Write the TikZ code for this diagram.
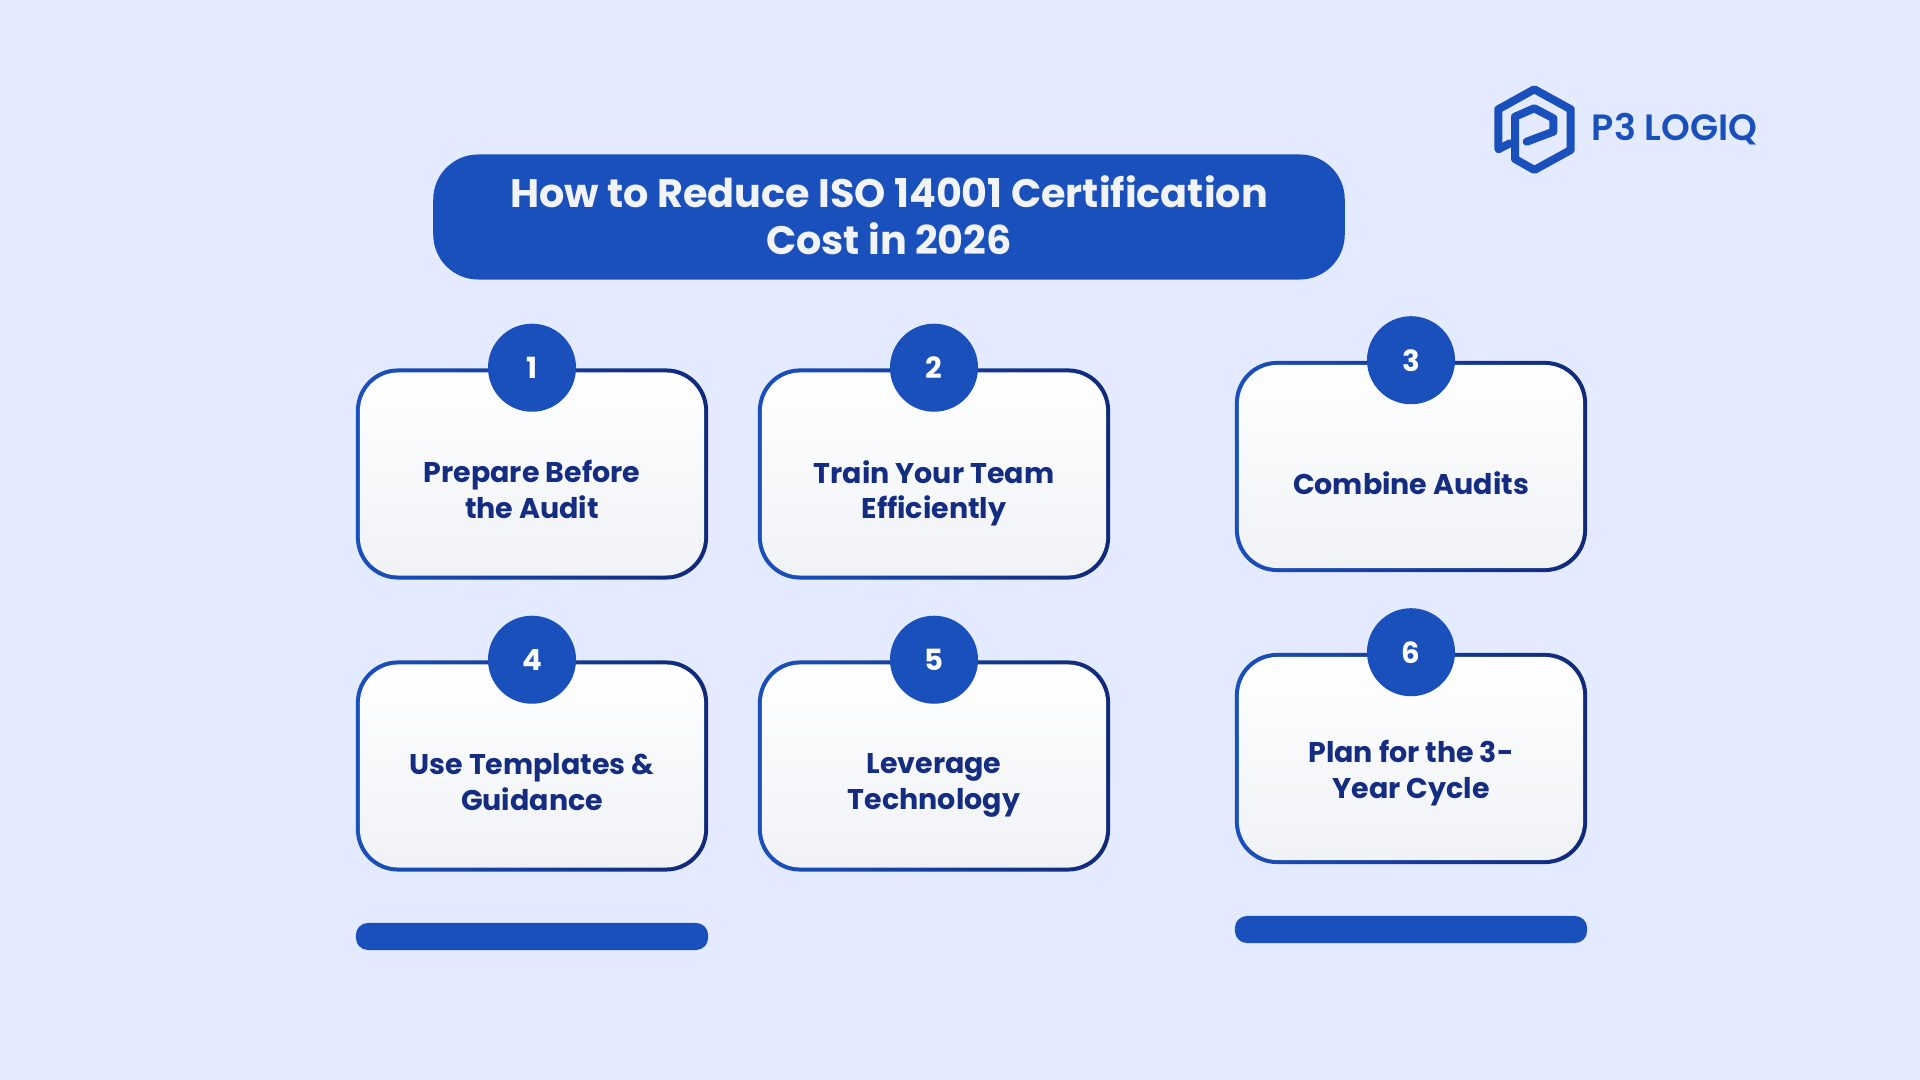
\documentclass[tikz,border=0pt]{standalone}
\usepackage{fontspec}
\usepackage{tikz}
\usepackage{xcolor}
\usetikzlibrary{positioning, shapes}
\setmainfont{Poppins}
\newfontfamily\logofont{Poppins SemiBold}
\definecolor{pagebg}{HTML}{E4EAFF}
\definecolor{brandblue}{HTML}{1A50BC}
\definecolor{edgedark}{HTML}{10297A}
\definecolor{inknavy}{HTML}{142D80}
\definecolor{cardlow}{HTML}{F0F2F6}
\definecolor{titleink}{HTML}{F1F3F6}

\begin{document}
\begin{tikzpicture}[
            x=0.01cm, y=-0.01cm,
            cardedge/.style={rectangle, rounded corners=0.42cm, minimum width=3.52cm, minimum height=2.11cm, inner sep=0pt, left color=brandblue, right color=edgedark},
            cardface/.style={rectangle, rounded corners=0.385cm, minimum width=3.44cm, minimum height=2.03cm, inner sep=0pt, top color=white, bottom color=cardlow},
            cardtext/.style={text=inknavy, font=\fontsize{8.1}{10.2}\selectfont\bfseries, align=center, yshift=-0.21cm, execute at begin node=\strut, execute at end node=\strut},
            numdot/.style={circle, fill=brandblue, minimum size=0.88cm, inner sep=0pt, text=white, font=\fontsize{8.3}{10}\selectfont\bfseries},
            footbar/.style={rectangle, fill=brandblue, rounded corners=0.12cm, minimum width=3.52cm, minimum height=0.27cm, inner sep=0pt},
        ]
            \fill[pagebg] (0,0) rectangle (1920,1080);
            \useasboundingbox (0,0) rectangle (1920,1080);

            \node[rectangle, fill=brandblue, rounded corners=0.45cm, minimum width=9.11cm, minimum height=1.25cm, text=titleink, align=center, font=\fontsize{11.3}{13.4}\selectfont\bfseries] (title) at (889,217) {\raisebox{0.035cm}{How to Reduce ISO 14001 Certification}\\\raisebox{0.035cm}{Cost in 2026}};

            \node[cardedge] (card1) at (532,474) {};
            \node[cardface] (face1) at (card1) {};
            \node[cardtext] (text1) at (face1) {Prepare Before\\the Audit};
            \node[numdot] (num1) at (card1.north) {1};

            \node[cardedge] (card2) at (934,474) {};
            \node[cardface] (face2) at (card2) {};
            \node[cardtext] (text2) at (face2) {Train Your Team\\Efficiently};
            \node[numdot] (num2) at (card2.north) {2};

            \node[cardedge] (card3) at (1411,466.5) {};
            \node[cardface] (face3) at (card3) {};
            \node[cardtext] (text3) at (face3) {Combine Audits};
            \node[numdot] (num3) at (card3.north) {3};

            \node[cardedge] (card4) at (532,766) {};
            \node[cardface] (face4) at (card4) {};
            \node[cardtext] (text4) at (face4) {Use Templates \&\\Guidance};
            \node[numdot] (num4) at (card4.north) {4};

            \node[cardedge] (card5) at (934,766) {};
            \node[cardface] (face5) at (card5) {};
            \node[cardtext] (text5) at (face5) {Leverage\\Technology};
            \node[numdot] (num5) at (card5.north) {5};

            \node[cardedge] (card6) at (1411,758.5) {};
            \node[cardface] (face6) at (card6) {};
            \node[cardtext, yshift=0.05cm] (text6) at (face6) {Plan for the 3-\\Year Cycle};
            \node[numdot] (num6) at (card6.north) {6};

            \node[footbar] (bar1) at (532,936.5) {};
            \node[footbar] (bar2) at (1411,929.5) {};

            \draw[brandblue, line width=0.08cm, line join=round, line cap=round] (1510,143.3) -- (1498.3,149.3) -- (1498.3,109.3) -- (1534.3,89.3) -- (1570.7,109.3) -- (1570.7,150) -- (1534.3,170) -- (1515,159) -- (1515,116.7) -- (1534.3,108.3) -- (1553.3,118.3) -- (1553.3,131.7) -- (1526.7,141.7);
            \node[text=brandblue, inner sep=0pt, font=\fontsize{10.4}{12}\selectfont\logofont] (brand) at (1674.5,129) {P3 LOGIQ};
        \end{tikzpicture}
\end{document}
